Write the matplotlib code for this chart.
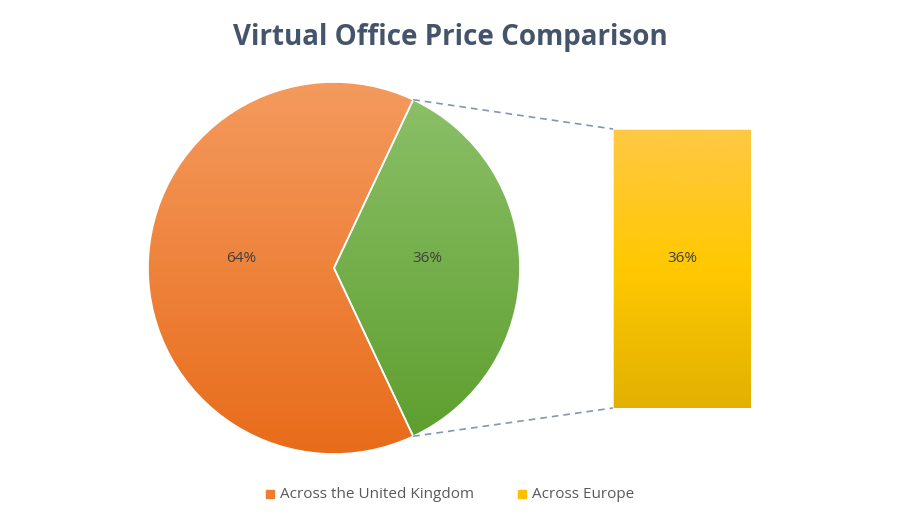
import matplotlib.pyplot as plt
import numpy as np
from matplotlib.colors import LinearSegmentedColormap
from matplotlib.patches import Rectangle

labels = ["Across the United Kingdom", "Across Europe"]
pie_values = [64, 36]
pie_labels = ["64%", "36%"]
bar_label = "36%"

plt.rcParams['font.family'] = ['Open Sans', 'DejaVu Sans']

fig = plt.figure(figsize=(9, 5.25), dpi=100)
ax = fig.add_axes([0, 0, 1, 1])
ax.set_xlim(0, 900)
ax.set_ylim(0, 525)
ax.set_aspect('equal')
ax.axis('off')

cx, cy, r = 334, 257, 186
start = 360 * pie_values[1] / 100 / 2 + 0.0
wedges, _ = ax.pie(pie_values, startangle=start, center=(cx, cy), radius=r,
                   colors=['none', 'none'], frame=True,
                   wedgeprops=dict(linewidth=1.2, edgecolor='white'))
ax.set_xlim(0, 900)
ax.set_ylim(0, 525)
ax.axis('off')

grads = [("#F49A5E", "#E86C1A"), ("#8DC16A", "#5C9D2C")]
for w, (c1, c2) in zip(wedges, grads):
    cmap = LinearSegmentedColormap.from_list("g", [c2, c1])
    img = ax.imshow(np.linspace(0, 1, 256).reshape(-1, 1), cmap=cmap, origin='lower',
                    extent=[cx - r, cx + r, cy - r, cy + r], aspect='auto', zorder=1)
    img.set_clip_path(w)
    w.set_zorder(2)
    w.set_facecolor('none')

ax.text(cx - 93, cy + 10, pie_labels[0], ha='center', va='center', fontsize=11, color='#404040', zorder=3)
ax.text(cx + 93, cy + 10, pie_labels[1], ha='center', va='center', fontsize=11, color='#404040', zorder=3)

# second plot (bar)
bx0, bx1, by0, by1 = 613, 751, 117, 396
cmap = LinearSegmentedColormap.from_list("y", ["#E2B100", "#FFC800", "#FFC845"])
ax.imshow(np.linspace(0, 1, 256).reshape(-1, 1), cmap=cmap, origin='lower',
          extent=[bx0, bx1, by0, by1], aspect='auto', zorder=1)
ax.add_patch(Rectangle((bx0, by0), bx1 - bx0, by1 - by0, fill=False, edgecolor='white', lw=0.5, zorder=2))
ax.text((bx0 + bx1) / 2, cy + 10, bar_label, ha='center', va='center', fontsize=11, color='#404040', zorder=3)

a = np.deg2rad(start)
px, py1, py2 = cx + r * np.cos(a), cy + r * np.sin(a), cy - r * np.sin(a)
ax.plot([px, bx0], [py1, by1], ls=(0, (4, 3)), color='#8496B0', lw=1.2)
ax.plot([px, bx0], [py2, by0], ls=(0, (4, 3)), color='#8496B0', lw=1.2)

ax.text(450, 487, "Virtual Office Price Comparison", ha='center', va='center',
        fontsize=20, fontweight='bold', color='#44546A')

ax.add_patch(Rectangle((266, 27), 8, 8, color='#ED7D31'))
ax.text(280, 31, labels[0], va='center', fontsize=11, color='#595959')
ax.add_patch(Rectangle((518, 27), 8, 8, color='#FFC000'))
ax.text(532, 31, labels[1], va='center', fontsize=11, color='#595959')

fig.savefig("out.png", dpi=100)
